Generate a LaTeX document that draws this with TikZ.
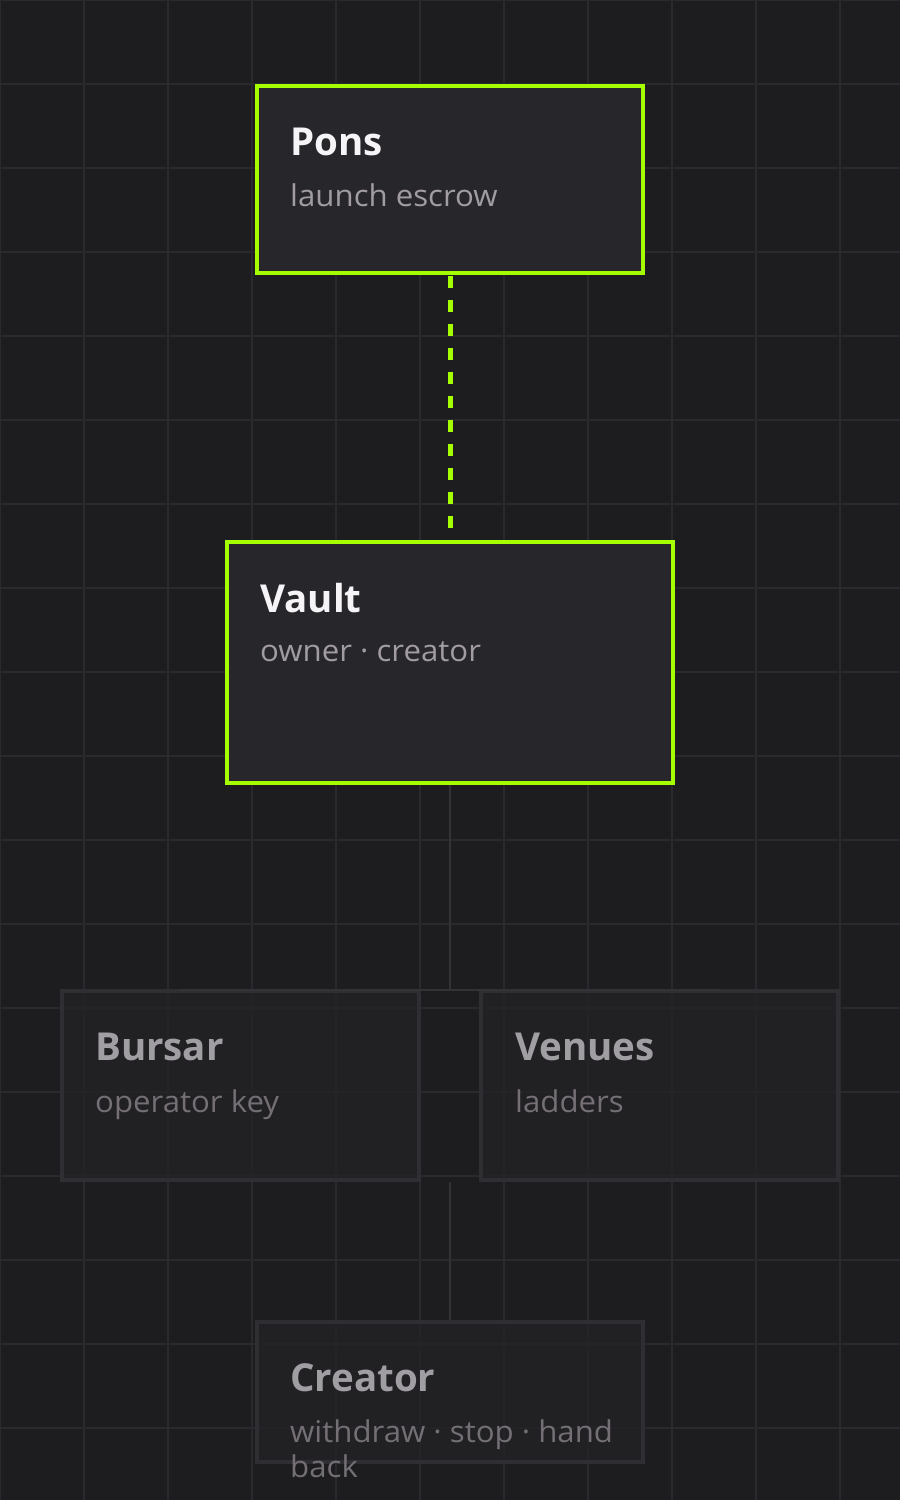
\documentclass[tikz,border=0pt]{standalone}
\usepackage{fontspec}
\setmainfont{Open Sans}
\newfontfamily\subfont{Open Sans}[FakeStretch=1.04]
\definecolor{bgc}{HTML}{1D1C1F}
\definecolor{gridc}{HTML}{2A292D}
\definecolor{boxfill}{HTML}{27262A}
\definecolor{limec}{HTML}{A6FF00}
\definecolor{titlec}{HTML}{F6F4F6}
\definecolor{subc}{HTML}{A09CA2}
\definecolor{dimtitle}{HTML}{A19EA3}
\definecolor{dimsub}{HTML}{736F75}
\definecolor{dimborder}{HTML}{2F2E32}
\definecolor{dimfill}{HTML}{232225}
\definecolor{linkc}{HTML}{333236}
\tikzset{
  activebox/.style={rectangle, draw=limec, line width=3.5pt, fill=boxfill, inner sep=0pt},
  dimbox/.style={rectangle, draw=dimborder, line width=3.5pt, fill=dimfill, fill opacity=0.75, draw opacity=1, inner sep=0pt},
  ttl/.style={anchor=base west, inner sep=0pt, font=\bfseries\fontsize{38.5}{46}\selectfont},
  sub/.style={anchor=base west, inner sep=0pt, font=\subfont\fontsize{30}{36}\selectfont},
  link/.style={draw=linkc, line width=2.5pt},
  dashlink/.style={draw=limec, line width=5pt, dash pattern=on 12pt off 12pt, shorten <=1.25pt, shorten >=0.5pt}
}
\begin{document}
\begin{tikzpicture}[x=1pt,y=-1pt]
\useasboundingbox (0,0) rectangle (900,1500);
\fill[bgc] (0,0) rectangle (900,1500);
\foreach \gx in {0,84,...,900} {\draw[gridc, line width=1.2pt] (\gx,0) -- (\gx,1500);}
\foreach \gy in {0,84,...,1500} {\draw[gridc, line width=1.2pt] (0,\gy) -- (900,\gy);}

% boxes
\node[activebox, minimum width=386pt, minimum height=187pt] (pons) at (450,179.5) {};
\node[activebox, minimum width=446pt, minimum height=241pt] (vault) at (450,662.5) {};
\node[dimbox, minimum width=357pt, minimum height=189pt] (bursar) at (240.5,1085.5) {};
\node[dimbox, minimum width=357pt, minimum height=189pt] (venues) at (659.5,1085.5) {};
\node[dimbox, minimum width=386pt, minimum height=140pt] (creator) at (450,1392) {};

% connectors
\coordinate (busC) at (450,990);
\coordinate (busL) at (180,990);
\coordinate (busR) at (720,990);
\coordinate (rowB) at (450,1182);
\draw[dashlink] (pons.south) -- (vault.north);
\draw[link] (vault.south) -- (busC);
\draw[link] (busL) -- (busR);
\draw[link] (rowB) -- (creator.north);

% texts
\node[ttl, text=titlec] (pons-t) at (290,155) {Pons};
\node[sub, text=subc] (pons-s) at (290,206) {launch escrow};
\node[ttl, text=titlec] (vault-t) at (260,612) {Vault};
\node[sub, text=subc] (vault-s) at (260,661) {owner · creator};
\node[ttl, text=dimtitle] (bursar-t) at (95,1060) {Bursar};
\node[sub, text=dimsub] (bursar-s) at (95,1112) {operator key};
\node[ttl, text=dimtitle] (venues-t) at (515,1060) {Venues};
\node[sub, text=dimsub] (venues-s) at (515,1112) {ladders};
\node[ttl, text=dimtitle] (creator-t) at (290,1391) {Creator};
\node[sub, text=dimsub] (creator-s1) at (290,1442) {withdraw · stop · hand};
\node[sub, text=dimsub] (creator-s2) at (290,1477) {back};
\end{tikzpicture}
\end{document}
